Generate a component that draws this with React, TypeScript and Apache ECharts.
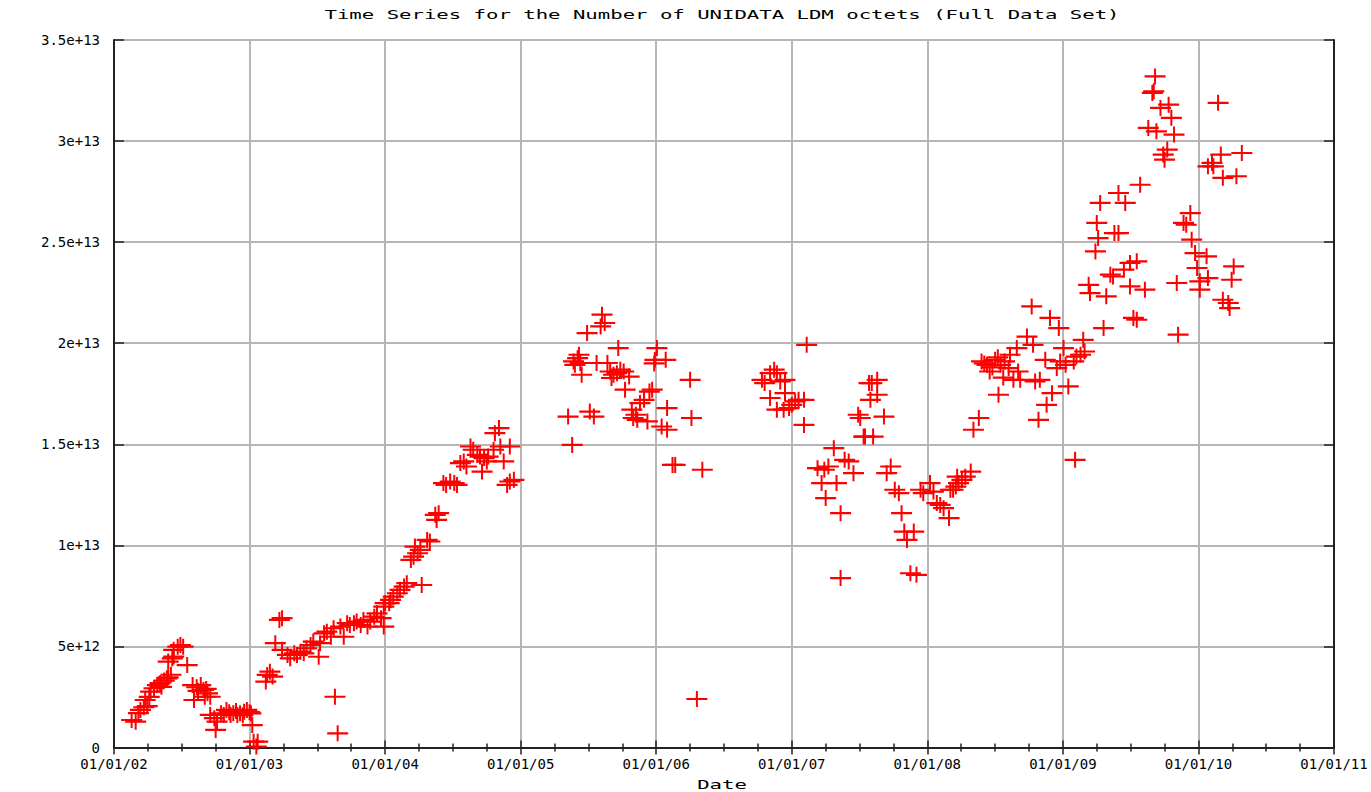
import React, { useEffect, useRef } from "react";
import * as echarts from "echarts";

// Data: [decimal year, octets in units of 1e12]
const points2002: [number, number][] = [
  [2002.13, 1.36], [2002.16, 1.28], [2002.18, 1.7], [2002.195, 1.86], [2002.22, 1.99], [2002.245, 2.05],
  [2002.23, 2.35], [2002.26, 2.5], [2002.27, 2.76], [2002.295, 2.93], [2002.32, 3.09], [2002.34, 3.18],
  [2002.35, 3.0], [2002.37, 3.31], [2002.39, 3.42], [2002.40, 3.47], [2002.42, 3.6], [2002.40, 4.25],
  [2002.43, 4.41], [2002.44, 4.5], [2002.44, 4.83], [2002.47, 4.99], [2002.49, 5.07], [2002.51, 4.99],
  [2002.54, 4.08], [2002.58, 3.09], [2002.59, 2.35], [2002.61, 2.98], [2002.62, 2.8], [2002.64, 3.09],
  [2002.66, 2.85], [2002.67, 2.51], [2002.68, 2.9], [2002.69, 2.68], [2002.71, 2.51], [2002.71, 1.61],
  [2002.74, 1.45], [2002.75, 0.87], [2002.76, 1.28], [2002.79, 1.69], [2002.81, 1.61], [2002.83, 1.86],
  [2002.85, 1.75], [2002.86, 1.61], [2002.88, 1.69], [2002.90, 1.8], [2002.91, 1.61], [2002.93, 1.69],
  [2002.95, 1.6], [2002.96, 1.77], [2002.98, 1.86], [2003.0, 1.75],
];

const points2003: [number, number][] = [
  [2003.01, 1.69], [2003.02, 1.11], [2003.03, 0.29], [2003.05, 0.05], [2003.06, 0.29],
  [2003.12, 3.26], [2003.13, 3.59], [2003.15, 3.75], [2003.17, 3.51], [2003.22, 6.31], [2003.24, 6.40],
  [2003.19, 5.16], [2003.24, 4.83], [2003.28, 4.58], [2003.30, 4.41], [2003.33, 4.66], [2003.35, 4.58],
  [2003.375, 4.74], [2003.40, 4.66], [2003.42, 4.91], [2003.45, 5.07], [2003.47, 5.24], [2003.51, 4.49],
  [2003.52, 5.16], [2003.55, 5.65], [2003.57, 5.73], [2003.60, 5.48], [2003.63, 2.51], [2003.65, 0.70],
  [2003.62, 5.90], [2003.67, 5.98], [2003.695, 5.48], [2003.72, 6.15], [2003.74, 6.06], [2003.77, 6.15],
  [2003.79, 6.23], [2003.82, 6.06], [2003.84, 6.31], [2003.87, 5.98], [2003.89, 6.23], [2003.92, 6.47],
  [2003.94, 6.64], [2003.97, 6.40], [2003.99, 5.98], [2003.99, 6.97],
];

const points2004: [number, number][] = [
  [2004.00, 7.14], [2004.03, 7.14], [2004.04, 7.30], [2004.06, 7.46], [2004.09, 7.63], [2004.11, 7.80],
  [2004.14, 7.96], [2004.16, 8.13], [2004.27, 8.04], [2004.19, 9.28], [2004.21, 9.44], [2004.24, 9.61],
  [2004.22, 9.94], [2004.26, 9.78], [2004.31, 10.27], [2004.33, 10.19], [2004.37, 11.51], [2004.395, 11.59],
  [2004.38, 11.26], [2004.43, 13.08], [2004.45, 12.99], [2004.48, 13.16], [2004.51, 13.08], [2004.53, 12.99],
  [2004.555, 14.07], [2004.58, 14.15], [2004.60, 13.90], [2004.63, 14.89], [2004.65, 14.73], [2004.68, 14.48],
  [2004.70, 14.39], [2004.73, 14.32], [2004.715, 13.65], [2004.75, 14.15], [2004.76, 14.39], [2004.80, 14.73],
  [2004.81, 15.55], [2004.84, 15.80], [2004.85, 14.89], [2004.875, 14.15], [2004.92, 14.89], [2004.90, 12.99],
  [2004.92, 13.16], [2004.95, 13.24],
];

const points2005: [number, number][] = [
  [2005.35, 16.37], [2005.38, 14.97], [2005.39, 19.10], [2005.42, 19.26], [2005.43, 19.43], [2005.40, 18.93],
  [2005.44, 19.02], [2005.45, 18.44], [2005.49, 20.50], [2005.51, 16.62], [2005.54, 16.37], [2005.56, 19.02],
  [2005.59, 20.83], [2005.60, 21.41], [2005.62, 21.00], [2005.64, 19.02], [2005.66, 18.60], [2005.67, 18.28],
  [2005.685, 18.44], [2005.71, 18.52], [2005.72, 19.76], [2005.735, 18.69], [2005.76, 18.60], [2005.77, 17.70],
  [2005.80, 18.35], [2005.82, 16.71], [2005.85, 16.46], [2005.86, 16.21], [2005.83, 16.30], [2005.88, 17.04],
  [2005.91, 17.20], [2005.935, 16.13], [2005.95, 17.61], [2005.97, 17.70], [2005.985, 19.0], [2005.99, 19.18],
];

const points2006: [number, number][] = [
  [2006.005, 19.76], [2006.07, 19.18], [2006.08, 16.79], [2006.04, 15.88], [2006.08, 15.72], [2006.12, 13.98],
  [2006.14, 13.98], [2006.25, 18.19], [2006.26, 16.30], [2006.34, 13.74], [2006.30, 2.40],
  [2006.78, 18.19], [2006.80, 18.03], [2006.84, 18.52], [2006.87, 18.69], [2006.89, 18.52], [2006.915, 18.11],
  [2006.95, 18.19], [2006.84, 17.29], [2006.89, 16.71], [2006.94, 16.71], [2006.95, 17.53], [2006.98, 16.79],
];

const points2007: [number, number][] = [
  [2007.00, 16.95], [2007.025, 17.12], [2007.05, 17.20], [2007.09, 17.20], [2007.09, 15.96], [2007.11, 19.92],
  [2007.31, 14.81], [2007.19, 13.82], [2007.24, 13.74], [2007.27, 13.90], [2007.22, 13.08], [2007.25, 12.34],
  [2007.33, 13.08], [2007.36, 11.59], [2007.36, 8.38], [2007.39, 14.23], [2007.42, 14.15], [2007.455, 13.57],
  [2007.49, 16.46], [2007.505, 16.30], [2007.53, 15.38], [2007.54, 15.38], [2007.57, 18.03], [2007.59, 18.03],
  [2007.58, 17.20], [2007.63, 18.19], [2007.63, 17.45], [2007.60, 15.38], [2007.68, 16.37], [2007.70, 13.57],
  [2007.73, 13.90], [2007.76, 12.75], [2007.79, 12.58], [2007.81, 11.59], [2007.83, 10.68], [2007.85, 10.27],
  [2007.90, 10.68], [2007.875, 8.62], [2007.92, 8.54], [2007.95, 12.75], [2007.97, 12.58],
];

const points2008: [number, number][] = [
  [2008.02, 13.08], [2008.045, 12.66], [2008.07, 12.09], [2008.095, 12.00], [2008.12, 11.84], [2008.16, 11.35],
  [2008.19, 12.75], [2008.22, 13.40], [2008.17, 12.75], [2008.21, 12.91], [2008.23, 13.08], [2008.255, 13.24],
  [2008.28, 13.40], [2008.32, 13.65], [2008.34, 15.72], [2008.38, 16.30], [2008.40, 19.10], [2008.42, 19.0],
  [2008.44, 18.93], [2008.46, 18.60], [2008.48, 18.8], [2008.50, 19.18], [2008.52, 19.3], [2008.525, 17.45],
  [2008.54, 18.93], [2008.56, 18.3], [2008.57, 19.10], [2008.60, 18.77], [2008.61, 19.43], [2008.635, 18.19],
  [2008.66, 19.76], [2008.67, 18.6], [2008.685, 18.19], [2008.735, 20.33], [2008.77, 21.82], [2008.795, 18.11],
  [2008.78, 19.92], [2008.82, 16.21], [2008.83, 18.19], [2008.87, 19.18], [2008.88, 16.95], [2008.905, 21.25],
  [2008.92, 17.53], [2008.955, 18.77], [2008.97, 20.75], [2008.98, 19.10],
];

const points2009: [number, number][] = [
  [2009.005, 19.76], [2009.02, 18.93], [2009.04, 17.86], [2009.08, 19.10], [2009.09, 14.23], [2009.10, 19.34],
  [2009.13, 19.43], [2009.15, 20.17], [2009.16, 19.59], [2009.20, 22.48], [2009.30, 20.75], [2009.32, 22.32],
  [2009.19, 22.89], [2009.35, 23.39], [2009.37, 23.30], [2009.45, 23.64], [2009.495, 23.97], [2009.545, 24.05],
  [2009.495, 22.81], [2009.605, 22.65], [2009.24, 24.54], [2009.26, 25.20], [2009.25, 25.95], [2009.38, 25.45],
  [2009.41, 25.45], [2009.275, 26.94], [2009.41, 27.43], [2009.46, 26.94], [2009.57, 27.84], [2009.52, 21.25],
  [2009.545, 21.16], [2009.74, 29.33], [2009.75, 29.08], [2009.77, 29.58], [2009.63, 30.65], [2009.69, 30.48],
  [2009.82, 30.32], [2009.72, 31.64], [2009.78, 31.80], [2009.80, 31.15], [2009.66, 32.38], [2009.67, 32.46],
  [2009.68, 33.20], [2009.84, 22.98], [2009.85, 20.42], [2009.94, 26.44], [2009.89, 25.95], [2009.91, 25.86],
  [2009.95, 25.12], [2009.975, 24.46], [2009.99, 23.72],
];

const points2010: [number, number][] = [
  [2010.01, 23.06], [2010.01, 22.65], [2010.06, 24.30], [2010.07, 23.22], [2010.145, 31.89], [2010.07, 28.75],
  [2010.11, 28.75], [2010.10, 28.92], [2010.18, 28.18], [2010.165, 29.33], [2010.32, 29.41], [2010.28, 28.26],
  [2010.26, 23.80], [2010.245, 23.14], [2010.18, 22.15], [2010.22, 21.99], [2010.23, 21.74],
];

const xTickLabels = ["01/01/02", "01/01/03", "01/01/04", "01/01/05", "01/01/06", "01/01/07", "01/01/08", "01/01/09", "01/01/10", "01/01/11"];
const yTickLabels = ["0", "5e+12", "1e+13", "1.5e+13", "2e+13", "2.5e+13", "3e+13", "3.5e+13"];
const titleText = "Time Series for the Number of UNIDATA LDM octets (Full Data Set)";
const xAxisTitle = "Date";

const MONO = '"DejaVu Sans Mono", "Liberation Mono", monospace';
// plus marker, 21 wide x 16 tall
const PLUS = "path://M9.5,0H11.5V6.9H21V9.1H11.5V16H9.5V9.1H0V6.9H9.5Z";

export default function App() {
  const ref = useRef<HTMLDivElement>(null);
  useEffect(() => {
    if (!ref.current) return;
    const chart = echarts.init(ref.current, null, { renderer: "svg" });
    const axisColor = "#222";
    const gridColor = "#b6b6b6";
    const allPoints = [
      ...points2002, ...points2003, ...points2004, ...points2005, ...points2006,
      ...points2007, ...points2008, ...points2009, ...points2010,
    ];
    chart.setOption({
      animation: false,
      backgroundColor: "#ffffff",
      grid: { left: 114, top: 40, width: 1220, height: 707.5, containLabel: false, outerBoundsMode: "none" },
      xAxis: [
        {
          type: "value", position: "bottom", min: 2002, max: 2011, interval: 1,
          axisLine: { show: true, lineStyle: { color: axisColor, width: 2 } },
          axisTick: { show: true, inside: true, length: 7, lineStyle: { color: axisColor, width: 1.5 } },
          minorTick: { show: true, splitNumber: 4, length: 4, lineStyle: { color: axisColor, width: 1.5 } },
          splitLine: { show: true, lineStyle: { color: gridColor, width: 2 } },
          axisLabel: {
            show: true, margin: 9, color: "#000", fontFamily: MONO, fontSize: 14,
            formatter: (v: number) => xTickLabels[Math.round(v - 2002)] ?? "",
          },
        },
        {
          type: "value", position: "top", min: 2002, max: 2011, interval: 1,
          axisLine: { show: true, lineStyle: { color: axisColor, width: 2 } },
          axisTick: { show: true, inside: true, length: 7, lineStyle: { color: axisColor, width: 1.5 } },
          minorTick: { show: true, splitNumber: 4, length: 4, lineStyle: { color: axisColor, width: 1.5 } },
          splitLine: { show: false },
          axisLabel: { show: false },
        },
      ],
      yAxis: [
        {
          type: "value", position: "left", min: 0, max: 35, interval: 5,
          axisLine: { show: true, lineStyle: { color: axisColor, width: 2 } },
          axisTick: { show: true, inside: true, length: 10, lineStyle: { color: axisColor, width: 1.5 } },
          splitLine: { show: true, lineStyle: { color: gridColor, width: 2 } },
          axisLabel: {
            show: true, margin: 14, color: "#000", fontFamily: MONO, fontSize: 14,
            formatter: (v: number) => yTickLabels[Math.round(v / 5)] ?? "",
          },
        },
        {
          type: "value", position: "right", min: 0, max: 35, interval: 5,
          axisLine: { show: true, lineStyle: { color: axisColor, width: 2 } },
          axisTick: { show: true, inside: true, length: 10, lineStyle: { color: axisColor, width: 1.5 } },
          splitLine: { show: false },
          axisLabel: { show: false },
        },
      ],
      graphic: [
        {
          type: "text", x: 722, y: 15, scaleX: 1.72, silent: true,
          style: { text: titleText, font: `12px ${MONO}`, fill: "#000", align: "center", verticalAlign: "middle", textAlign: "center", textVerticalAlign: "middle" },
        },
        {
          type: "text", x: 722, y: 785, scaleX: 1.72, silent: true,
          style: { text: xAxisTitle, font: `12px ${MONO}`, fill: "#000", align: "center", verticalAlign: "middle", textAlign: "center", textVerticalAlign: "middle" },
        },
      ],
      series: [
        {
          type: "scatter",
          xAxisIndex: 0,
          yAxisIndex: 0,
          symbol: PLUS,
          symbolSize: [21, 16],
          symbolKeepAspect: false,
          itemStyle: { color: "#ff0000", opacity: 1 },
          data: allPoints,
          z: 5,
        },
      ],
    });
    return () => chart.dispose();
  }, []);
  return (
    <div
      ref={ref}
      style={{ position: "absolute", left: 0, top: 0, width: 1371, height: 792, background: "#fff" }}
    />
  );
}
